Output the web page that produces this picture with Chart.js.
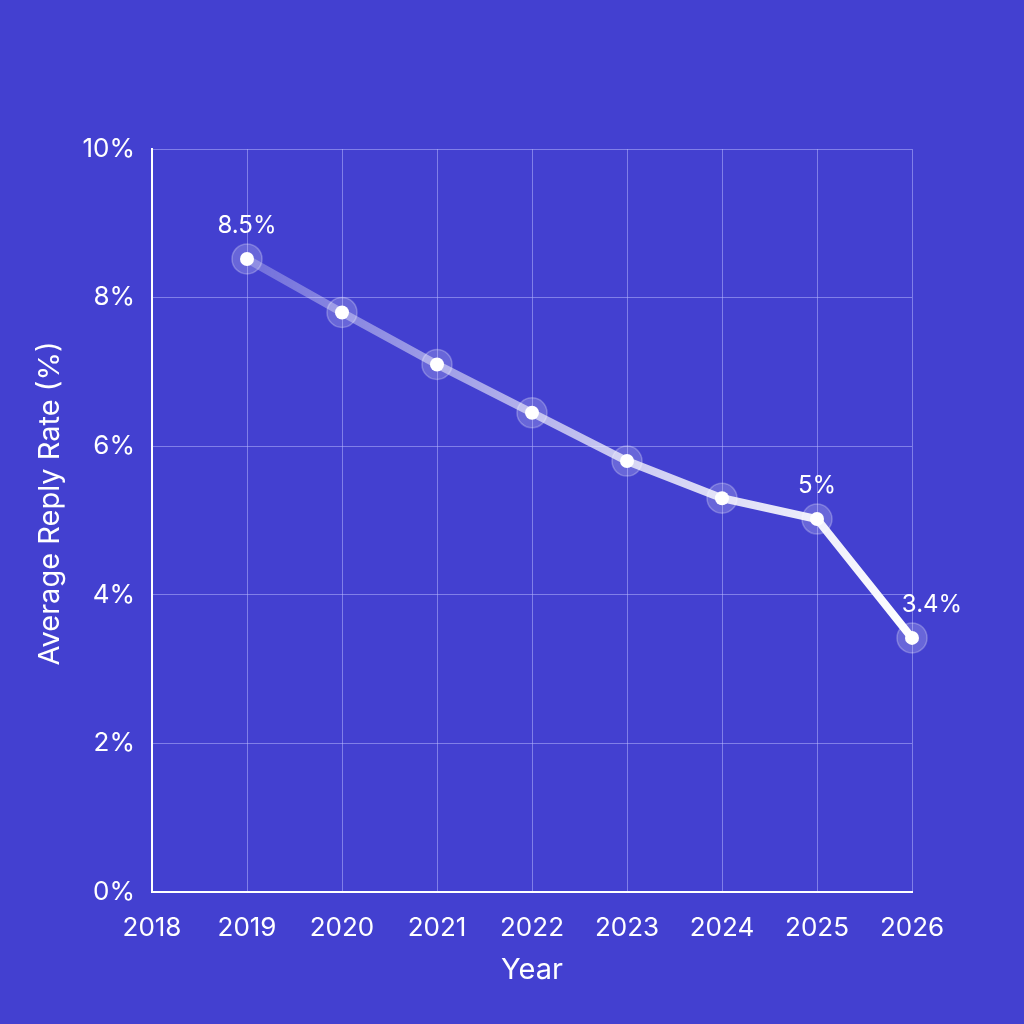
<!DOCTYPE html>
<html>
<head>
<meta charset="utf-8">
<script src="https://cdn.jsdelivr.net/npm/chart.js@4.4.1/dist/chart.umd.min.js"></script>
<style>
  html, body { margin: 0; padding: 0; background: #4340d0; }
  #wrap { width: 1024px; height: 1024px; }
</style>
</head>
<body>
<div id="wrap"><canvas id="chart" width="1024" height="1024"></canvas></div>
<script>
// data
const years = [2019, 2020, 2021, 2022, 2023, 2024, 2025, 2026];
const replyRates = [8.52, 7.8, 7.1, 6.45, 5.8, 5.3, 5.02, 3.42];
const labelledYears = [2019, 2025, 2026];
const labelTexts = ["8.5%", "5%", "3.4%"];
const xTicks = [2018, 2019, 2020, 2021, 2022, 2023, 2024, 2025, 2026];
const yTicks = [0, 2, 4, 6, 8, 10];
const yTitle = "Average Reply Rate (%)";

const points = years.map((y, i) => ({ x: y, y: replyRates[i] }));

// fade the line from translucent (left) to solid white (right)
function lineGradient(context) {
  const chart = context.chart;
  const area = chart.chartArea;
  if (!area) return "rgba(255,255,255,0.6)";
  const xs = chart.scales.x;
  const x0 = xs.getPixelForValue(years[0]);
  const x1 = xs.getPixelForValue(years[years.length - 1]);
  const g = chart.ctx.createLinearGradient(x0, 0, x1, 0);
  g.addColorStop(0, "rgba(255,255,255,0.25)");
  g.addColorStop(0.6, "rgba(255,255,255,0.75)");
  g.addColorStop(1, "rgba(255,255,255,1)");
  return g;
}

// value labels above selected points + y axis title (sits a bit above the axis centre)
const pointLabels = {
  id: "pointLabels",
  afterDatasetsDraw(chart) {
    const meta = chart.getDatasetMeta(0);
    const ctx = chart.ctx;
    ctx.save();
    ctx.fillStyle = "#ffffff";
    ctx.font = "24px Inter, 'Noto Sans', sans-serif";
    ctx.textAlign = "center";
    ctx.textBaseline = "middle";
    labelledYears.forEach((yr, k) => {
      const i = years.indexOf(yr);
      const el = meta.data[i];
      const dx = i === years.length - 1 ? 20 : 0;
      ctx.fillText(labelTexts[k], el.x + dx, el.y - 33);
    });
    const ys = chart.scales.y;
    ctx.font = "29px Inter, 'Noto Sans', sans-serif";
    ctx.translate(ys.left + 32, (ys.top + ys.bottom) / 2 - 17);
    ctx.rotate(-Math.PI / 2);
    ctx.fillText(yTitle, 0, 0);
    ctx.restore();
  }
};

const tickFont = { family: "Inter, 'Noto Sans', sans-serif", size: 26 };
const titleFont = { family: "Inter, 'Noto Sans', sans-serif", size: 29 };
const gridColor = "rgba(190,190,255,0.5)";

new Chart(document.getElementById("chart"), {
  type: "scatter",
  data: {
    datasets: [
      {
        data: points,
        showLine: true,
        clip: false,
        borderColor: lineGradient,
        borderWidth: 8,
        pointRadius: 7,
        pointBackgroundColor: "#ffffff",
        pointBorderWidth: 0,
        pointHoverRadius: 7
      },
      {
        data: points,
        showLine: false,
        clip: false,
        pointRadius: 15,
        pointBackgroundColor: "rgba(255,255,255,0.2)",
        pointBorderColor: "rgba(255,255,255,0.25)",
        pointBorderWidth: 1.5
      }
    ]
  },
  options: {
    responsive: false,
    animation: false,
    layout: { padding: { top: 149, right: 112, bottom: 18, left: 18 } },
    plugins: { legend: { display: false }, tooltip: { enabled: false } },
    scales: {
      x: {
        type: "linear",
        min: 2018,
        max: 2026,
        afterFit: s => { s.height = 114; },
        afterBuildTicks: s => { s.ticks = xTicks.map(v => ({ value: v })); },
        ticks: { color: "#ffffff", font: tickFont, padding: 21, callback: v => String(v) },
        grid: { color: gridColor, lineWidth: 1, drawTicks: false },
        border: { color: "#ffffff", width: 2 },
        title: {
          display: true, text: "Year", color: "#ffffff",
          font: titleFont,
          padding: { bottom: 18 }
        }
      },
      y: {
        min: 0,
        max: 10,
        afterFit: s => { s.width = 134; },
        afterBuildTicks: s => { s.ticks = yTicks.map(v => ({ value: v })); },
        ticks: { color: "#ffffff", font: tickFont, padding: 17, callback: v => v + "%" },
        grid: { color: gridColor, lineWidth: 1, drawTicks: false },
        border: { color: "#ffffff", width: 2 },
        title: { display: false }
      }
    }
  },
  plugins: [pointLabels]
});
</script>
</body>
</html>
